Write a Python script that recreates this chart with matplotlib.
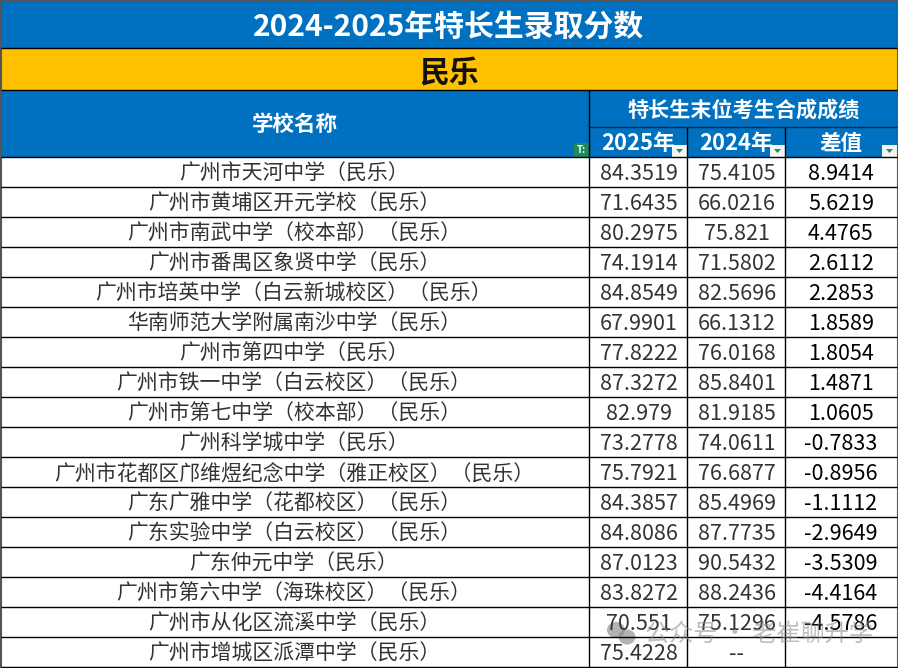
import matplotlib
matplotlib.use('Agg')
import matplotlib.pyplot as plt
from matplotlib.patches import Rectangle, Ellipse, Polygon

plt.rcParams['font.family'] = ['Noto Sans CJK SC', 'DejaVu Sans']

title = '2024-2025年特长生录取分数'
section = '民乐'
name_header = '学校名称'
group_header = '特长生末位考生合成成绩'
col_headers = ['2025年', '2024年', '差值']

schools = ['广州市天河中学（民乐）', '广州市黄埔区开元学校（民乐）', '广州市南武中学（校本部）（民乐）',
           '广州市番禺区象贤中学（民乐）', '广州市培英中学（白云新城校区）（民乐）', '华南师范大学附属南沙中学（民乐）',
           '广州市第四中学（民乐）', '广州市铁一中学（白云校区）（民乐）', '广州市第七中学（校本部）（民乐）',
           '广州科学城中学（民乐）', '广州市花都区邝维煜纪念中学（雅正校区）（民乐）', '广东广雅中学（花都校区）（民乐）',
           '广东实验中学（白云校区）（民乐）', '广东仲元中学（民乐）', '广州市第六中学（海珠校区）（民乐）',
           '广州市从化区流溪中学（民乐）', '广州市增城区派潭中学（民乐）']
scores_2025 = ['84.3519', '71.6435', '80.2975', '74.1914', '84.8549', '67.9901', '77.8222', '87.3272', '82.979',
               '73.2778', '75.7921', '84.3857', '84.8086', '87.0123', '83.8272', '70.551', '75.4228']
scores_2024 = ['75.4105', '66.0216', '75.821', '71.5802', '82.5696', '66.1312', '76.0168', '85.8401', '81.9185',
               '74.0611', '76.6877', '85.4969', '87.7735', '90.5432', '88.2436', '75.1296', '--']
diffs = ['8.9414', '5.6219', '4.4765', '2.6112', '2.2853', '1.8589', '1.8054', '1.4871', '1.0605',
         '-0.7833', '-0.8956', '-1.1112', '-2.9649', '-3.5309', '-4.4164', '-4.5786', '']

BLUE = '#0070c0'
ORANGE = '#ffc000'
W, H = 898, 668
row_top = 157
row_h = 30

fig = plt.figure(figsize=(W / 100, H / 100), dpi=100)
ax = fig.add_axes([0, 0, 1, 1])
ax.set_xlim(0, W)
ax.set_ylim(H, 0)
ax.axis('off')

# header bands
ax.add_patch(Rectangle((1, 2), 896, 46, color=BLUE, lw=0))
ax.add_patch(Rectangle((1, 48), 896, 42, color=ORANGE, lw=0))
ax.add_patch(Rectangle((1, 90), 896, 67, color=BLUE, lw=0))

ax.text(449, 27, title, color='white', fontsize=21.5, fontweight='bold', ha='center', va='center')
ax.text(449.5, 72, section, color='#111111', fontsize=21.5, fontweight='bold', ha='center', va='center')
ax.text(295, 124, name_header, color='white', fontsize=15.5, fontweight='bold', ha='center', va='center')
ax.text(744, 110, group_header, color='white', fontsize=15.2, fontweight='bold', ha='center', va='center')
ax.text(638.5, 144, col_headers[0], color='white', fontsize=15.8, fontweight='bold', ha='center', va='center')
ax.text(736.5, 144, col_headers[1], color='white', fontsize=15.8, fontweight='bold', ha='center', va='center')
ax.text(841, 144, col_headers[2], color='white', fontsize=15.5, fontweight='bold', ha='center', va='center')

# filter buttons
for bx in [672, 770, 882]:
    ax.add_patch(Rectangle((bx, 145), 15, 12, color='#f4f6f4', lw=0))
    ax.add_patch(Polygon([(bx + 4, 149), (bx + 11, 149), (bx + 7.5, 153)], color='#1f8a5f', lw=0))
ax.add_patch(Rectangle((574, 143), 15, 14, color='#1f8a5f', lw=0))
ax.text(581.5, 150, 'T:', color='white', fontsize=7, fontweight='bold', ha='center', va='center')

# rows
for i in range(len(schools)):
    y = row_top + row_h * (i + 0.5) + 2
    ax.text(294, y, schools[i], color='#333333', fontsize=15, ha='center', va='center')
    ax.text(639, y, scores_2025[i], color='#333333', fontsize=15.5, ha='center', va='center')
    ax.text(737, y, scores_2024[i], color='#333333', fontsize=15.5, ha='center', va='center')
    ax.text(841, y, diffs[i], color='black', fontsize=15.5, ha='center', va='center')

# grid lines
for i in range(len(schools) + 1):
    ax.hlines(row_top + row_h * i, 1, 897, color='black', lw=1)
ax.hlines([48, 90], 1, 897, color='black', lw=1)
ax.hlines(127, 589, 897, color='#0a2a4a', lw=1)
ax.vlines(589, 90, 667, color='black', lw=1)
ax.vlines([687, 785], 127, 667, color='black', lw=1)

# frame
ax.add_patch(Rectangle((0.5, 0.5), W - 1, H - 1, fill=False, ec='#555555', lw=1.5))

# watermark
ax.add_patch(Ellipse((616, 630), 18, 16, color='#8a8a8a', alpha=0.65, lw=0))
ax.add_patch(Ellipse((627, 637), 17, 15, color='#8a8a8a', alpha=0.65, lw=0))
ax.text(759, 634, '公众号 · 老崔聊升学', color='#8a8a8a', alpha=0.55, fontsize=17.4, ha='center', va='center')

fig.savefig('out.png', dpi=100)
